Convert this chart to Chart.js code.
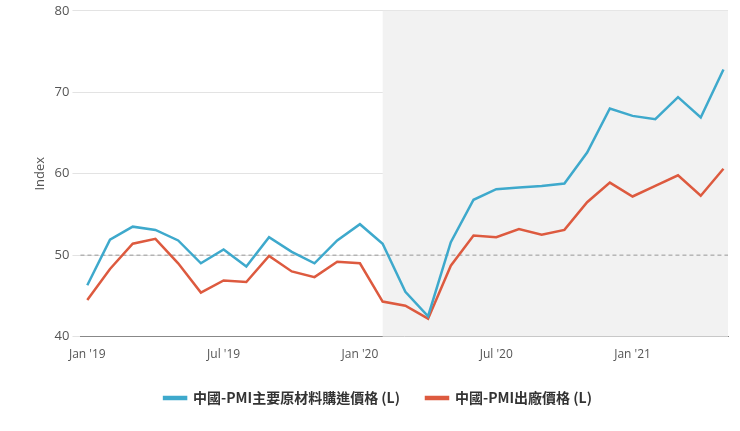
<!DOCTYPE html>
<html>
<head>
<meta charset="utf-8">
<script src="https://cdn.jsdelivr.net/npm/chart.js@4"></script>
<style>
  body { margin: 0; background: #fff; }
  #wrap { width: 740px; height: 431px; }
</style>
</head>
<body>
<div id="wrap"><canvas id="myChart"></canvas></div>
<script>
// Months Jan 2019 .. May 2021
const months = ["Jan '19","Feb","Mar","Apr","May","Jun","Jul '19","Aug","Sep","Oct","Nov","Dec",
  "Jan '20","Feb","Mar","Apr","May","Jun","Jul '20","Aug","Sep","Oct","Nov","Dec",
  "Jan '21","Feb","Mar","Apr","May"];
const inputPrices = [46.3,51.9,53.5,53.1,51.8,49.0,50.7,48.6,52.2,50.4,49.0,51.8,
  53.8,51.4,45.5,42.5,51.6,56.8,58.1,58.3,58.5,58.8,62.6,68.0,67.1,66.7,69.4,66.9,72.8];
const outputPrices = [44.5,48.3,51.4,52.0,49.0,45.4,46.9,46.7,49.9,48.0,47.3,49.2,
  49.0,44.3,43.8,42.2,48.7,52.4,52.2,53.2,52.5,53.1,56.5,58.9,57.2,58.5,59.8,57.3,60.6];
const xTicks = [0, 6, 12, 18, 24];
const yTicks = [40, 50, 60, 70, 80];
const shadeFrom = 13; // Feb 2020

// Background shading + dashed 50 line
const shadePlugin = {
  id: 'shade',
  beforeDatasetsDraw(chart) {
    const { ctx, chartArea, scales } = chart;
    const x0 = scales.x.getPixelForValue(shadeFrom);
    ctx.save();
    ctx.fillStyle = '#f2f2f2';
    ctx.fillRect(x0, chartArea.top, chartArea.right - x0, chartArea.bottom - chartArea.top);
    const y50 = scales.y.getPixelForValue(50);
    ctx.strokeStyle = '#999';
    ctx.setLineDash([4, 3]);
    ctx.lineWidth = 1;
    ctx.beginPath();
    ctx.moveTo(chartArea.left, y50);
    ctx.lineTo(chartArea.right, y50);
    ctx.stroke();
    ctx.restore();
  }
};

const toPts = arr => arr.map((v, i) => ({ x: i, y: v }));

new Chart(document.getElementById('myChart').getContext('2d'), {
  type: 'line',
  data: {
    datasets: [{
      label: '中國-PMI主要原材料購進價格 (L)',
      data: toPts(inputPrices),
      borderColor: '#3ea9cc',
      backgroundColor: '#3ea9cc',
      borderWidth: 2.5,
      pointRadius: 0,
      tension: 0
    }, {
      label: '中國-PMI出廠價格 (L)',
      data: toPts(outputPrices),
      borderColor: '#dd5a3f',
      backgroundColor: '#dd5a3f',
      borderWidth: 2.5,
      pointRadius: 0,
      tension: 0
    }]
  },
  options: {
    responsive: true,
    maintainAspectRatio: false,
    animation: false,
    layout: { padding: { left: 28, right: 12, top: 10, bottom: 16 } },
    scales: {
      x: {
        type: 'linear',
        min: -0.3,
        max: 28.2,
        afterBuildTicks: axis => { axis.ticks = xTicks.map(v => ({ value: v })); },
        ticks: {
          callback: v => months[v],
          color: '#555',
          font: { family: 'Open Sans', size: 12 },
          maxRotation: 0
        },
        grid: { display: false },
        border: { color: '#888' }
      },
      y: {
        min: 40,
        max: 80,
        afterBuildTicks: axis => { axis.ticks = yTicks.map(v => ({ value: v })); },
        title: { display: true, text: 'Index', color: '#555', font: { family: 'Open Sans', size: 13 } },
        ticks: { color: '#555', font: { family: 'Open Sans', size: 13 } },
        grid: { color: '#e3e3e3' },
        border: { display: false }
      }
    },
    plugins: {
      legend: {
        position: 'bottom',
        labels: {
          boxWidth: 22,
          boxHeight: 2,
          padding: 26,
          color: '#333',
          font: { family: 'Noto Sans CJK TC', size: 14, weight: 'bold' }
        }
      },
      tooltip: { enabled: false }
    }
  },
  plugins: [shadePlugin]
});
</script>
</body>
</html>
